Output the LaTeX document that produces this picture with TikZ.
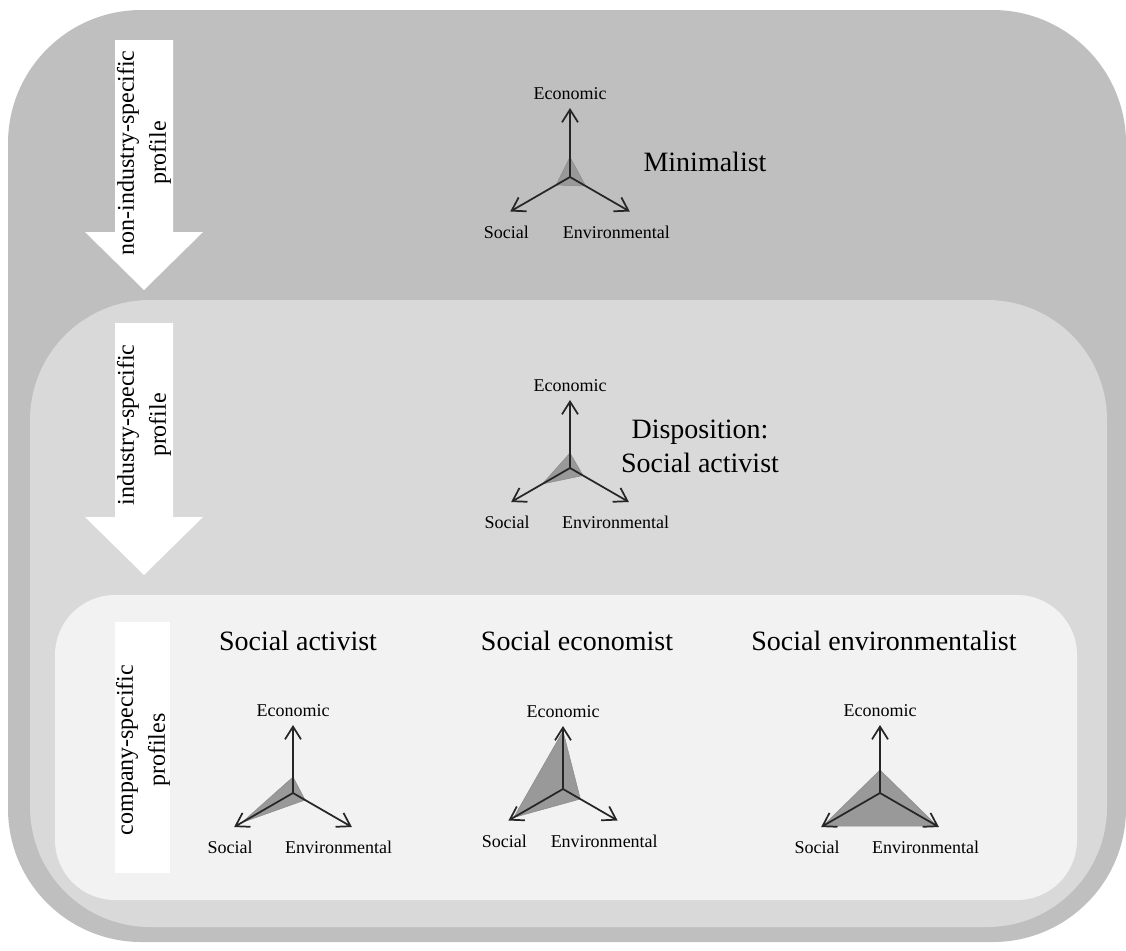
\documentclass[tikz,border=0pt]{standalone}
\usepackage{xcolor}
\usepackage{fontspec}
\setmainfont{Liberation Serif}
\usetikzlibrary{positioning,arrows.meta}

\definecolor{outerbg}{HTML}{BFBFBF}
\definecolor{midbg}{HTML}{D9D9D9}
\definecolor{innerbg}{HTML}{F2F2F2}

\begin{document}
\begin{tikzpicture}[x=0.75pt,y=-0.75pt,
  axis/.style={draw=black!85,line width=1.3pt,-{Straight Barb[length=9.5pt,width=12pt]}},
  tri/.style={fill=black!40,draw=black!45,line width=0.4pt},
  lbl/.style={font=\fontsize{13.5}{16}\selectfont,inner sep=0pt},
  heading/.style={font=\fontsize{21}{25.5}\selectfont,align=center,inner sep=0pt},
  sidetext/.style={font=\fontsize{18}{24}\selectfont,align=center,rotate=90,inner sep=0pt}]

  % panels
  \fill[white] (0,0) rectangle (1126,950);
  \fill[outerbg,rounded corners=100] (8,10) rectangle (1126,942);
  \fill[midbg,rounded corners=90] (30,300) rectangle (1107,927);
  \fill[innerbg,rounded corners=45] (55,595) rectangle (1077,900);

  % side arrows
  \fill[white] (115,40) -- (173,40) -- (173,232) -- (203,232) -- (144,290) -- (85,232) -- (115,232) -- cycle;
  \fill[white] (115,323) -- (173,323) -- (173,517) -- (203,517) -- (144,575) -- (85,517) -- (115,517) -- cycle;
  \fill[white] (115,622) rectangle (170,873);

  \node[sidetext] (pnon) at (144,153) {non-industry-specific\\profile};
  \node[sidetext] (pind) at (144,425) {industry-specific\\profile};
  \node[sidetext] (pcom) at (143,750) {company-specific\\profiles};

  % headings
  \node[heading] (tmin) at (705,162) {Minimalist};
  \node[heading] (tdis) at (700,446) {Disposition:\\Social activist};
  \node[heading] (tact) at (298,641) {Social activist};
  \node[heading] (teco) at (577,641) {Social economist};
  \node[heading] (tenv) at (884,641) {Social environmentalist};

  % profiles
  \foreach \g/\cx/\cy/\r/\pe/\ps/\pv in {min/570/177/69/20/16/18, dis/570/468/68/15/32/15,
      act/293/793/68/16/59/14, eco/563/789/63/58/57/20, env/880/793/68/23/66/66}{
    \coordinate (\g) at (\cx,\cy);
    \coordinate (\g-e) at ([shift={(270:\r)}]\g);
    \coordinate (\g-s) at ([shift={(150:\r)}]\g);
    \coordinate (\g-v) at ([shift={(30:\r)}]\g);
    \fill[tri] ([shift={(270:\pe)}]\g) -- ([shift={(150:\ps)}]\g) -- ([shift={(30:\pv)}]\g) -- cycle;
    \draw[axis] (\g) -- (\g-e);
    \draw[axis] (\g) -- (\g-s);
    \draw[axis] (\g) -- (\g-v);
    \node[lbl,above=6pt of \g-e] (\g-el) {Economic};
    \node[lbl,below=10.5pt of \g-s,xshift=-3pt] (\g-sl) {Social};
    \node[lbl,below=10.5pt of \g-v,xshift=-10pt] (\g-vl) {Environmental};
  }
\end{tikzpicture}
\end{document}
